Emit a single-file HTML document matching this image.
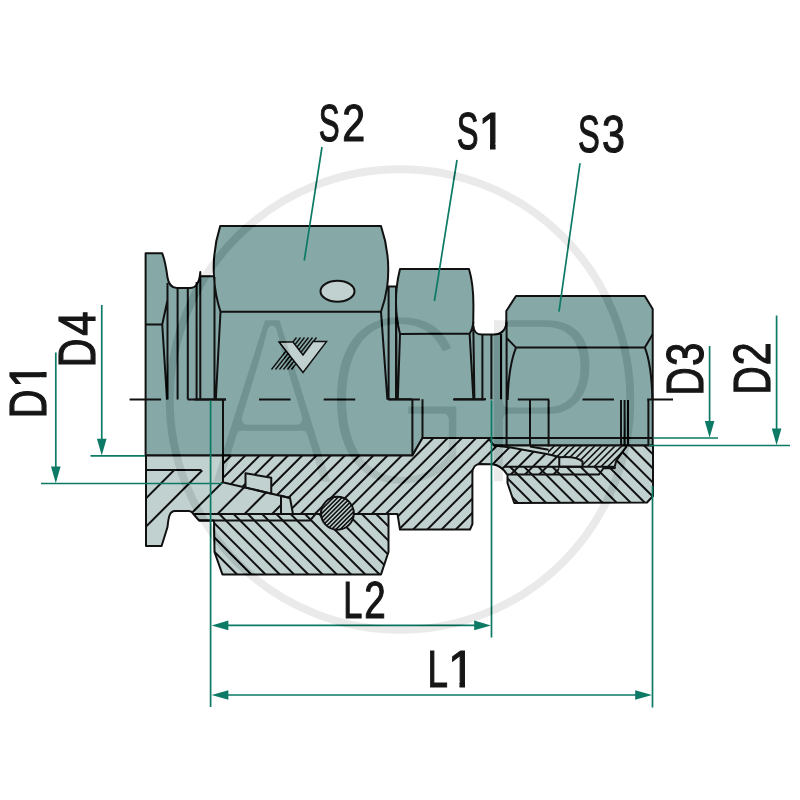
<!DOCTYPE html>
<html lang="en"><head><meta charset="utf-8"><title>Fitting dimensions S1 S2 S3 D1 D2 D3 D4 L1 L2</title>
<style>
html,body{margin:0;padding:0;background:#fff;}
body{width:800px;height:800px;overflow:hidden;}
svg{display:block;}
text{font-family:"Liberation Sans",sans-serif;-webkit-font-smoothing:antialiased;}
svg{will-change:transform;}
.lbl{font-size:52.4px;fill:#161616;stroke:#161616;stroke-width:1.2px;}
</style></head><body>
<svg width="800" height="800" viewBox="0 0 800 800">
<rect width="800" height="800" fill="#fff"/>

<path d="M145.6,455.6 L145.6,253.3 L162.25,253.3 C165.5,262 166.5,270 167.5,277.5 C168.5,284 171,288 177,288 L190,288 C196,288 199.5,282 200.3,272 L200.3,276.3 L214,276.3 A136.3 136.3 0 0 1 220.2,226.1 L381,226.1 A136.3 136.3 0 0 1 387.2,286.6 L396.8,286.6 A134 134 0 0 1 400,269 L469,269 C472,279 473.6,293 473.4,308 L473.2,326 C473.6,331 477,334.6 482,334.6 L494,334.6 C501,334.6 506.3,330 506.3,322 L506.3,311 L516,296 L644.8,296 L652.7,309 L652.7,445.6 L494,445.6 L488,438 L422.5,438 L412.4,455.6 Z" fill="#86a8a7" stroke="#111" stroke-width="2.0" stroke-linejoin="round"/>
<path d="M146,455.6 L146,546 L161.6,546 L167.5,527 C168.5,517 169.5,511 175,511 L189,511 C191.5,511 192,512 193,513.5 L199,520.5 L214,520.5 L214.5,552 L222.4,574.4 L381,574.4 L388.5,552 L388.5,514.1 L397.5,514.1 L400,529.6 L470,529.6 L472.4,524 L472.4,473 C472.6,467 476,464 480,464 L491.7,464.3 C498,464.5 503,468 507.5,475 L507.5,483 L514.25,503 L647,502.5 L653,496 L653,445.6 L494,445.6 L488,438 L422.5,438 L412.4,455.6 Z" fill="#c0d1cf" stroke="none"/>
<clipPath id="cIns"><polygon points="146,470 201.4,470 222.5,482.25 281,495.8 281,514.1 193,514.1 190,511 175,511 169,517 167.5,527 161.6,546 146,546"/></clipPath>
<path clip-path="url(#cIns)" d="M176.30,468.00L96.30,548.00M204.60,468.00L124.60,548.00" fill="none" stroke="#111" stroke-width="2.0" />
<clipPath id="cIns2"><polygon points="146,470 201.4,470 222.5,482.25 281,495.8 281,514.1 193,514.1 190,511 175,511 169,517 167.5,527 161.6,546 146,546"/></clipPath>
<path clip-path="url(#cIns2)" d="M236.75,468.00L189.75,515.00M263.50,468.00L216.50,515.00M290.50,468.00L243.50,515.00M318.00,468.00L271.00,515.00" fill="none" stroke="#111" stroke-width="2.0" />
<clipPath id="cBody"><polygon points="222.5,455.6 412.4,455.6 422.5,438 488,438 494,445.6 507,446.9 557,456.4 559.25,457 559.25,474.4 507.5,474.4 504,470.5 497,465.5 491.7,464.3 480,464 475,466 472.4,472 472.4,524 470,529.6 400,529.6 397.5,514.1 293,514.1 290,498 222.5,482.25"/></clipPath>
<path clip-path="url(#cBody)" d="M207.99,436.00L112.39,531.60M222.21,436.00L126.61,531.60M236.43,436.00L140.83,531.60M250.65,436.00L155.05,531.60M264.87,436.00L169.27,531.60M279.09,436.00L183.49,531.60M293.31,436.00L197.71,531.60M307.53,436.00L211.93,531.60M321.75,436.00L226.15,531.60M335.97,436.00L240.37,531.60M350.19,436.00L254.59,531.60M364.41,436.00L268.81,531.60M378.63,436.00L283.03,531.60M392.85,436.00L297.25,531.60M407.07,436.00L311.47,531.60M421.29,436.00L325.69,531.60M435.51,436.00L339.91,531.60M449.73,436.00L354.13,531.60M463.95,436.00L368.35,531.60M478.17,436.00L382.57,531.60M492.39,436.00L396.79,531.60M506.61,436.00L411.01,531.60M520.83,436.00L425.23,531.60M535.05,436.00L439.45,531.60M549.27,436.00L453.67,531.60M563.49,436.00L467.89,531.60M577.71,436.00L482.11,531.60M591.93,436.00L496.33,531.60M606.15,436.00L510.55,531.60" fill="none" stroke="#111" stroke-width="2.0" />
<clipPath id="cNut2"><polygon points="214,514.1 388.5,514.1 388.5,552 381,574.4 222.4,574.4 214.5,552"/></clipPath>
<path clip-path="url(#cNut2)" d="M131.95,512.10L196.25,576.40M146.20,512.10L210.50,576.40M160.45,512.10L224.75,576.40M174.70,512.10L239.00,576.40M188.95,512.10L253.25,576.40M203.20,512.10L267.50,576.40M217.45,512.10L281.75,576.40M231.70,512.10L296.00,576.40M245.95,512.10L310.25,576.40M260.20,512.10L324.50,576.40M274.45,512.10L338.75,576.40M288.70,512.10L353.00,576.40M302.95,512.10L367.25,576.40M317.20,512.10L381.50,576.40M331.45,512.10L395.75,576.40M345.70,512.10L410.00,576.40M359.95,512.10L424.25,576.40M374.20,512.10L438.50,576.40M388.45,512.10L452.75,576.40M402.70,512.10L467.00,576.40" fill="none" stroke="#111" stroke-width="2.0" />
<clipPath id="cNut3"><polygon points="504,466.75 600,466.75 603.5,468.25 614.75,468.25 616.25,460.75 626.75,446.2 653,445.75 653,496 647,502.5 514.25,503 507.5,483 507.5,474.4"/></clipPath>
<path clip-path="url(#cNut3)" d="M416.42,443.75L477.67,505.00M430.54,443.75L491.79,505.00M444.66,443.75L505.91,505.00M458.78,443.75L520.03,505.00M472.90,443.75L534.15,505.00M487.02,443.75L548.27,505.00M501.14,443.75L562.39,505.00M515.26,443.75L576.51,505.00M529.38,443.75L590.63,505.00M543.50,443.75L604.75,505.00M557.62,443.75L618.87,505.00M571.74,443.75L632.99,505.00M585.86,443.75L647.11,505.00M599.98,443.75L661.23,505.00M614.10,443.75L675.35,505.00M628.22,443.75L689.47,505.00M642.34,443.75L703.59,505.00M656.46,443.75L717.71,505.00" fill="none" stroke="#111" stroke-width="2.0" />
<clipPath id="cTube"><polygon points="548,449.7 552,446 626.75,446.2 616.25,460.75 614.75,466.75 582.5,466.75 582.5,461.5 575,457.5 559.25,457 548,454.2"/></clipPath>
<path clip-path="url(#cTube)" d="M542.70,444.00L517.95,468.75M549.45,444.00L524.70,468.75M556.20,444.00L531.45,468.75M562.95,444.00L538.20,468.75M569.70,444.00L544.95,468.75M576.45,444.00L551.70,468.75M583.20,444.00L558.45,468.75M589.95,444.00L565.20,468.75M596.70,444.00L571.95,468.75M603.45,444.00L578.70,468.75M610.20,444.00L585.45,468.75M616.95,444.00L592.20,468.75M623.70,444.00L598.95,468.75M630.45,444.00L605.70,468.75M637.20,444.00L612.45,468.75M643.95,444.00L619.20,468.75" fill="none" stroke="#111" stroke-width="1.6" />
<polygon points="245.5,487.6 245.5,473.25 271.25,477.75 271.25,493.6" fill="#c0d1cf" stroke="#111" stroke-width="2.0" stroke-linejoin="round"/>
<polygon points="281,495.8 290,498 293,514.1 281,514.1" fill="#c0d1cf" stroke="#111" stroke-width="2.0" stroke-linejoin="round"/>
<path d="M559.25,466.75 L559.25,457.2 C568,456.5 577,456.5 582.5,461.5 L582.5,466.75 Z" fill="#c0d1cf" stroke="#111" stroke-width="2.0" stroke-linejoin="round"/>
<path d="M146,455.6 L146,546 L161.6,546 L167.5,527 C168.5,517 169.5,511 175,511 L189,511 C191.5,511 192,512 193,513.5 L199,520.5 L214,520.5 L214.5,552 L222.4,574.4 L381,574.4 L388.5,552 L388.5,514.1 L397.5,514.1 L400,529.6 L470,529.6 L472.4,524 L472.4,473 C472.6,467 476,464 480,464 L491.7,464.3 C498,464.5 503,468 507.5,475 L507.5,483 L514.25,503 L647,502.5 L653,496 L653,445.6 L494,445.6 L488,438 L422.5,438 L412.4,455.6 Z" fill="none" stroke="#111" stroke-width="2.0" stroke-linejoin="round"/>
<circle cx="337.4" cy="513.25" r="16.4" fill="#c0d1cf"/>
<clipPath id="cRing"><circle cx="337.4" cy="513.25" r="16.4"/></clipPath>
<path clip-path="url(#cRing)" d="M336.65,490L291.65,535M340.95,490L295.95,535M345.25,490L300.25,535M349.55,490L304.55,535M353.85,490L308.85,535M358.15,490L313.15,535M362.45,490L317.45,535M366.75,490L321.75,535M371.05,490L326.05,535M375.35,490L330.35,535M379.65,490L334.65,535M383.95,490L338.95,535" stroke="#111" stroke-width="1.6" fill="none"/>
<circle cx="337.4" cy="513.25" r="16.4" fill="none" stroke="#111" stroke-width="2.0"/>
<path d="M145.6,324.5 L162.25,324.5 M167.5,300 L162.25,324.5 L167,399.6 M167.5,283 L167.5,399.6 M177.6,287.5 L177.6,399.6 M187.8,287.5 L187.8,399.6 M196.6,282 L196.6,399.6 M200.3,276.3 L200.3,399.6 M187.8,399.6 L226,399.6 M223,399.6 L223,482.25 M220.5,311.75 L381,311.75 M214,276.3 A136.3 136.3 0 0 0 220.5,311.75 M214.5,277 L214.5,399.6 M220.5,311.75 L215.8,399.6 M387.2,286.6 A136.3 136.3 0 0 1 381,311.75 M381,311.75 L387.4,399.6 M388.6,286.6 L388.6,399.6 M396,286.6 L396,399.6 M388,399.3 L412,399.3 M412.4,399.3 L412.4,455.6 M422.5,399.3 L422.5,438 M400,334 L469.6,333.5 M396.8,286.6 A134 134 0 0 0 400,334 M396.2,310 L396.6,399.3 M400,334 L397.8,399.3 M469.6,333.5 L473.4,399.3 M473.3,322 C472.8,328 471.5,331 469.6,333.5 M473.3,326 L474.4,399.3 M454,399.3 L486,399.3 M482.4,335 L482.4,399.3 M491.4,335 L491.4,399.3 M501,334 L501,399.3 M506.6,322 L506.6,445.6 M516,347.6 L644.8,347.4 L652.7,334.3 M506.6,338 L516,347.6 M516,347.6 C511,360 508.2,380 507.6,400 M644.8,347.4 C649,358 651.8,372 652.4,400 M530,400 L530,445.6 M548.6,400 L548.6,446.5 M621,400 L621,445.6 M624.6,400 L624.6,445.6 M628,400 L628,445.6 M648.4,400 L648.4,445.6 M422.5,438 L653,438 M146,470 L201.4,470 M222.5,482.25 L290,498 M193,514.1 L321.2,514.1 M353.6,514.1 L397.5,514.1 M199,520.5 L310,520.5 L315.5,514.1 M494,445.6 L507,446.9 L548,454.2 L559.25,457 M530,446.5 L548.6,449.7 M504,466.75 L600,466.75 M507.5,474.4 L599,474.4 L603.5,468.25 L614.75,468.25 L614.75,466.75 M582.5,466.75 L614.75,466.75 L616.25,460.75 L626.75,446.2" fill="none" stroke="#111" stroke-width="2.0" stroke-linejoin="round" stroke-linecap="butt"/>
<ellipse cx="337.5" cy="291.25" rx="17" ry="10.5" fill="#c0d1cf" stroke="#111" stroke-width="2.0"/>
<path d="M271.5,369.5L296.5,337.5M275.5,369.5L300.5,337.5M279.5,369.5L304.5,337.5M283.5,369.5L308.5,337.5M287.5,369.5L312.5,337.5M291.5,369.5L316.5,337.5" stroke="#111" stroke-width="1.3" fill="none"/>
<polygon points="279,342 293,342 303,355 313,341.6 326.5,341.6 303,372.5" fill="#c0d1cf" stroke="#111" stroke-width="1.5" stroke-linejoin="miter"/>
<path d="M129.6,399.6 L673,399.6" stroke="#111" stroke-width="2.0" stroke-dasharray="31.5 33.2" fill="none"/>
<path d="M322,147 L304.25,260.5 M457,160 L434.4,301 M580,163.25 L559,311.6 M101.75,305 L101.75,445 M90.5,455.8 L145,455.8 M55.8,352.5 L55.8,472 M41,483.5 L222,483.5 M709.6,346 L709.6,427 M653.5,438 L718,438 M776.6,315.4 L776.6,434 M649,445.5 L790,445.5 M210.6,400.5 L210.6,707 M491.5,400.5 L491.5,637.5 M652.5,486 L652.5,707.5 M222,625.4 L480,625.4 M222,695 L642,695" fill="none" stroke="#0d7a65" stroke-width="1.7"/>
<polygon points="101.75,455.5 96.95,438.7 106.55,438.7" fill="#0d7a65"/>
<polygon points="55.8,483.2 51.0,466.4 60.599999999999994,466.4" fill="#0d7a65"/>
<polygon points="709.6,437.7 704.8000000000001,420.9 714.4,420.9" fill="#0d7a65"/>
<polygon points="776.6,445.2 771.8000000000001,428.4 781.4,428.4" fill="#0d7a65"/>
<polygon points="211.6,625.4 228.4,620.6 228.4,630.1999999999999" fill="#0d7a65"/>
<polygon points="491,625.4 474.2,620.6 474.2,630.1999999999999" fill="#0d7a65"/>
<polygon points="211.6,695 228.4,690.2 228.4,699.8" fill="#0d7a65"/>
<polygon points="652,695 635.2,690.2 635.2,699.8" fill="#0d7a65"/>
<text class="lbl" aria-label="S2" y="141.3"><tspan x="318.69" textLength="20.90" lengthAdjust="spacingAndGlyphs">S</tspan><tspan x="342.29" textLength="22.92" lengthAdjust="spacingAndGlyphs">2</tspan></text>
<clipPath id="cl1"><path clip-rule="evenodd" d="M-2000,-2000H2000V2000H-2000ZM480.13,143.27H490.00V151.30H480.13ZM495.50,143.27H504.98V151.30H495.50Z"/></clipPath>
<text class="lbl" aria-label="S1" y="149.3" clip-path="url(#cl1)"><tspan x="456.63" textLength="21.77" lengthAdjust="spacingAndGlyphs">S</tspan><tspan x="478.46" textLength="26.89" lengthAdjust="spacingAndGlyphs">1</tspan></text>
<text class="lbl" aria-label="S3" y="152.4"><tspan x="577.88" textLength="21.77" lengthAdjust="spacingAndGlyphs">S</tspan><tspan x="602.03" textLength="22.93" lengthAdjust="spacingAndGlyphs">3</tspan></text>
<text class="lbl" aria-label="L2" y="618"><tspan x="343.37" textLength="19.16" lengthAdjust="spacingAndGlyphs">L</tspan><tspan x="364.27" textLength="21.46" lengthAdjust="spacingAndGlyphs">2</tspan></text>
<clipPath id="cl2"><path clip-rule="evenodd" d="M-2000,-2000H2000V2000H-2000ZM449.63,680.97H459.50V689.00H449.63ZM465.00,680.97H474.48V689.00H465.00Z"/></clipPath>
<text class="lbl" aria-label="L1" y="687" clip-path="url(#cl2)"><tspan x="427.59" textLength="20.42" lengthAdjust="spacingAndGlyphs">L</tspan><tspan x="447.96" textLength="26.89" lengthAdjust="spacingAndGlyphs">1</tspan></text>
<text class="lbl" aria-label="D4" transform="translate(95.25,0) rotate(-90)" y="0"><tspan x="-367.16" textLength="28.72" lengthAdjust="spacingAndGlyphs">D</tspan><tspan x="-335.66" textLength="24.33" lengthAdjust="spacingAndGlyphs">4</tspan></text>
<clipPath id="cl3"><path clip-rule="evenodd" d="M-2000,-2000H2000V2000H-2000ZM-386.29,-6.03H-377.14V2.00H-386.29ZM-372.00,-6.03H-363.21V2.00H-372.00Z"/></clipPath>
<text class="lbl" aria-label="D1" transform="translate(45.75,0) rotate(-90)" y="0" clip-path="url(#cl3)"><tspan x="-418.16" textLength="28.72" lengthAdjust="spacingAndGlyphs">D</tspan><tspan x="-387.65" textLength="24.61" lengthAdjust="spacingAndGlyphs">1</tspan></text>
<text class="lbl" aria-label="D3" transform="translate(703.4,0) rotate(-90)" y="0"><tspan x="-395.60" textLength="28.17" lengthAdjust="spacingAndGlyphs">D</tspan><tspan x="-366.00" textLength="23.46" lengthAdjust="spacingAndGlyphs">3</tspan></text>
<text class="lbl" aria-label="D2" transform="translate(770,0) rotate(-90)" y="0"><tspan x="-394.60" textLength="28.17" lengthAdjust="spacingAndGlyphs">D</tspan><tspan x="-365.26" textLength="22.92" lengthAdjust="spacingAndGlyphs">2</tspan></text>
<g style="mix-blend-mode:difference">
<circle cx="400" cy="399.5" r="230.3" fill="none" stroke="#151515" stroke-width="8"/>
<mask id="wm" maskUnits="userSpaceOnUse" x="150" y="250" width="500" height="300">
<rect x="150" y="250" width="500" height="300" fill="#000"/>
<text transform="translate(0,488) scale(0.78,1)" x="264 413 606.5" y="0" font-size="253" fill="#fff" stroke="#000" stroke-width="11" stroke-linejoin="round" vector-effect="non-scaling-stroke">AGP</text>
</mask>
<rect x="150" y="250" width="500" height="300" fill="#151515" mask="url(#wm)"/>
</g>
</svg></body></html>
